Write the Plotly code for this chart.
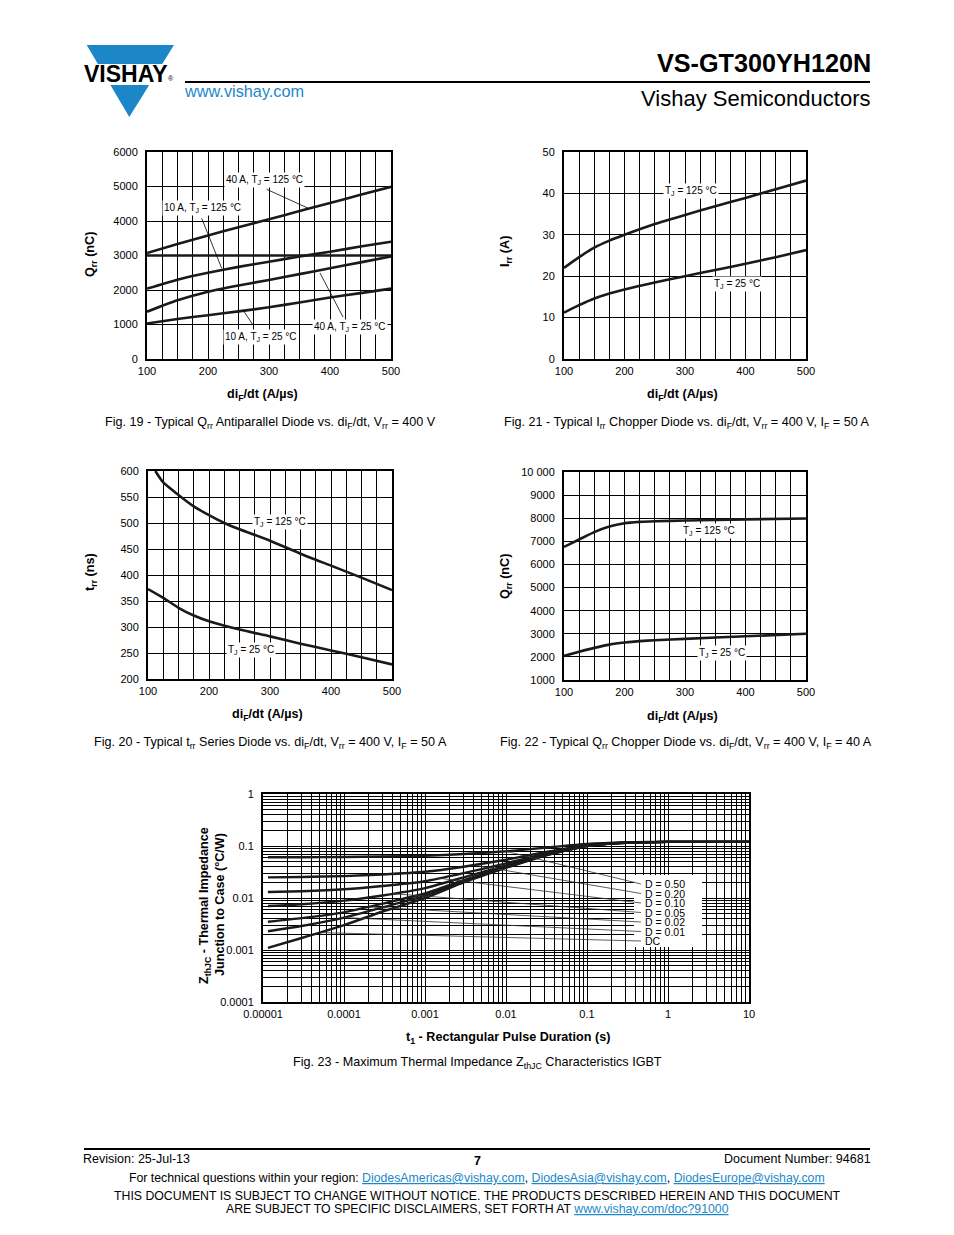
import numpy as np
import plotly.graph_objects as go

# ---------------- data ----------------
# Fig. 19  Qrr (nC) vs diF/dt
x19 = [100, 150, 200, 250, 300, 350, 400, 450, 500]
q19_40a_125 = [3070, 3330, 3580, 3820, 4050, 4290, 4520, 4760, 4990]
q19_10a_125 = [2040, 2300, 2500, 2670, 2820, 2970, 3110, 3260, 3400]
q19_40a_25 = [1370, 1700, 1950, 2130, 2290, 2460, 2630, 2800, 2970]
q19_10a_25 = [1030, 1160, 1270, 1380, 1500, 1640, 1780, 1910, 2040]

# Fig. 21  Irr (A) vs diF/dt
x21 = [100, 125, 150, 175, 200, 250, 300, 350, 400, 450, 500]
i21_125 = [22.0, 24.6, 26.9, 28.6, 30.0, 32.6, 34.8, 36.9, 38.9, 41.0, 43.1]
i21_25 = [11.2, 13.0, 14.6, 15.8, 16.8, 18.5, 20.0, 21.5, 23.0, 24.6, 26.3]

# Fig. 20  trr (ns) vs diF/dt
x20_125 = [112, 125, 150, 175, 200, 225, 250, 300, 350, 400, 450, 500]
t20_125 = [600, 578, 554, 532, 515, 500, 488, 466, 441, 418, 395, 371]
x20_25 = [100, 125, 150, 175, 200, 250, 300, 350, 400, 450, 500]
t20_25 = [373, 356, 337, 322, 311, 295, 282, 268, 255, 242, 228]

# Fig. 22  Qrr (nC) vs diF/dt
x22 = [100, 125, 150, 175, 200, 225, 250, 300, 400, 500]
q22_125 = [6760, 7080, 7400, 7640, 7780, 7840, 7870, 7900, 7950, 7990]
q22_25 = [2040, 2220, 2390, 2530, 2620, 2680, 2720, 2780, 2890, 3000]

# Fig. 23  ZthJC (°C/W) vs t1 (s)
t23 = [1.15e-5, 3e-5, 1e-4, 3e-4, 1e-3, 3e-3, 1e-2, 3e-2, 0.1, 0.3, 1, 3, 10]
z_d050 = [0.0606, 0.0609, 0.0615, 0.0628, 0.0650, 0.0700, 0.0790, 0.0925, 0.1100, 0.1175, 0.120, 0.120, 0.120]
z_d020 = [0.0249, 0.0254, 0.0264, 0.0284, 0.0320, 0.0400, 0.0544, 0.0760, 0.1040, 0.1160, 0.120, 0.120, 0.120]
z_d010 = [0.0130, 0.0135, 0.0147, 0.0170, 0.0210, 0.0300, 0.0462, 0.0705, 0.1020, 0.1155, 0.120, 0.120, 0.120]
z_d005 = [0.0070, 0.0076, 0.0089, 0.0112, 0.0155, 0.0250, 0.0421, 0.0678, 0.1010, 0.1153, 0.120, 0.120, 0.120]
z_d002 = [0.0035, 0.0041, 0.0053, 0.0078, 0.0122, 0.0220, 0.0396, 0.0661, 0.1004, 0.1151, 0.120, 0.120, 0.120]
z_d001 = [0.0023, 0.0029, 0.0042, 0.0066, 0.0111, 0.0210, 0.0388, 0.0656, 0.1002, 0.1150, 0.120, 0.120, 0.120]
z_dc = [0.0011, 0.0017, 0.0030, 0.0055, 0.0100, 0.0200, 0.0380, 0.0650, 0.1000, 0.1150, 0.120, 0.120, 0.120]
d_labels = ["D = 0.50", "D = 0.20", "D = 0.10", "D = 0.05", "D = 0.02", "D = 0.01", "DC"]

lin_xticks = list(range(100, 501, 25))
log_x_major = [1e-5, 1e-4, 1e-3, 1e-2, 1e-1, 1, 10]
log_x_text = ["0.00001", "0.0001", "0.001", "0.01", "0.1", "1", "10"]
log_y_major = [1e-4, 1e-3, 1e-2, 1e-1, 1]
log_y_text = ["0.0001", "0.001", "0.01", "0.1", "1"]

# ---------------- helpers ----------------
W, H = 954, 1235
FONT = "Liberation Sans, Arial, Helvetica, sans-serif"
BLUE = "#1b87c9"
INK = "#1a1a1a"


def px(x):
    return x / W


def py(y):
    return 1 - y / H


common = dict(showline=True, linecolor="black", linewidth=2, mirror=True,
              showgrid=True, gridcolor="black", gridwidth=1, zeroline=False,
              ticks="", tickfont=dict(size=11, color="black", family=FONT),
              fixedrange=True, tickmode="array", automargin=False, tickangle=0)

fig = go.Figure()
layout_axes = {}


def axname(n, a):
    return f"{a}axis" if n == 1 else f"{a}axis{n}"


def ref(n, a):
    return a if n == 1 else f"{a}{n}"


def lin_panel(n, box, yr, ystep, yfmt=None):
    x0, y0, x1, y1 = box
    layout_axes[axname(n, "x")] = dict(
        domain=[px(x0), px(x1)], range=[100, 500], anchor=ref(n, "y"),
        tickvals=lin_xticks,
        ticktext=[str(v) if v % 100 == 0 else " " for v in lin_xticks],
        ticklabelstandoff=1, **common)
    yv = list(range(yr[0], yr[1] + 1, ystep))
    layout_axes[axname(n, "y")] = dict(
        domain=[py(y1), py(y0)], range=list(yr), anchor=ref(n, "x"),
        tickvals=yv, ticktext=[(yfmt(v) if yfmt else str(v)) for v in yv],
        ticklabelstandoff=5, **common)


lin_panel(1, (147, 152, 391, 359), (0, 6000), 1000)
lin_panel(2, (564, 152, 806, 359), (0, 50), 10)
lin_panel(3, (148, 471, 392, 679), (200, 600), 50)
lin_panel(4, (564, 472, 806, 680), (1000, 10000), 1000,
          lambda v: "10 000" if v == 10000 else str(v))

# log panel
LX0, LY0, LX1, LY1 = 263, 794, 749, 1002
xv, xt = [], []
for k, d in enumerate(log_x_major):
    xv.append(d)
    xt.append(log_x_text[k])
    if d < 10:
        for m in range(2, 10):
            xv.append(d * m)
            xt.append(" ")
yv, yt = [], []
for k, d in enumerate(log_y_major):
    yv.append(d)
    yt.append(log_y_text[k])
    if d < 1:
        for m in range(2, 10):
            yv.append(d * m)
            yt.append(" ")
layout_axes["xaxis5"] = dict(domain=[px(LX0), px(LX1)], type="log", range=[-5, 1],
                             anchor="y5", tickvals=xv, ticktext=xt,
                             ticklabelstandoff=1, **common)
layout_axes["yaxis5"] = dict(domain=[py(LY1), py(LY0)], type="log", range=[-4, 0],
                             anchor="x5", tickvals=yv, ticktext=yt,
                             ticklabelstandoff=5, **common)


def curve(n, x, y, width=2.6, smooth=0.6):
    fig.add_trace(go.Scatter(x=x, y=y, mode="lines",
                             line=dict(color=INK, width=width, shape="spline", smoothing=smooth),
                             xaxis=ref(n, "x"), yaxis=ref(n, "y"),
                             hoverinfo="skip", showlegend=False))


curve(1, x19, q19_40a_125)
curve(1, x19, q19_10a_125)
curve(1, x19, q19_40a_25)
curve(1, x19, q19_10a_25)
curve(2, x21, i21_125)
curve(2, x21, i21_25)
curve(3, x20_125, t20_125)
curve(3, x20_25, t20_25)
curve(4, x22, q22_125)
curve(4, x22, q22_25)
z_all = [z_d050, z_d020, z_d010, z_d005, z_d002, z_d001, z_dc]
for z in z_all:
    curve(5, t23, z, width=2.4, smooth=0.5)

shapes = []
annotations = []


def pline(x0, y0, x1, y1, w=0.8, color="black"):
    shapes.append(dict(type="line", xref="paper", yref="paper",
                       x0=px(x0), y0=py(y0), x1=px(x1), y1=py(y1),
                       line=dict(color=color, width=w)))


def text(x, y, s, size=12, bold=False, color="black", xanchor="center",
         angle=0, bg=None):
    if bold:
        s = f"<b>{s}</b>"
    # compensate annotation inner padding
    if xanchor == "left":
        x -= 3
    elif xanchor == "right":
        x += 3
    a = dict(x=px(x), y=py(y), xref="paper", yref="paper", text=s, showarrow=False,
             xanchor=xanchor, yanchor="middle", textangle=angle,
             font=dict(size=size, color=color, family=FONT))
    if bg:
        a.update(bgcolor=bg, borderpad=1)
    annotations.append(a)


# thick line at 3000 in Fig. 19
shapes.append(dict(type="line", xref="x", yref="y", x0=100, x1=500, y0=3000, y1=3000,
                   line=dict(color=INK, width=2.4)))

# Fig. 19 leaders + labels
pline(266.7, 189.3, 308.3, 208.3)
pline(201.7, 218.3, 221.7, 268.3)
pline(320, 273, 343, 317)
pline(243, 310, 253, 325)
LBL = 10
text(264, 180, "40 A, T<sub>J</sub> = 125 °C", LBL, bg="white")
text(202, 208, "10 A, T<sub>J</sub> = 125 °C", LBL, bg="white")
text(350, 327, "40 A, T<sub>J</sub> = 25 °C", LBL, bg="white")
text(261, 337, "10 A, T<sub>J</sub> = 25 °C", LBL, bg="white")
# Fig. 21
text(691, 191, "T<sub>J</sub> = 125 °C", LBL, bg="white")
text(737, 284, "T<sub>J</sub> = 25 °C", LBL, bg="white")
# Fig. 20
text(280, 522, "T<sub>J</sub> = 125 °C", LBL, bg="white")
text(251, 650, "T<sub>J</sub> = 25 °C", LBL, bg="white")
# Fig. 22
text(709, 531, "T<sub>J</sub> = 125 °C", LBL, bg="white")
text(722, 653, "T<sub>J</sub> = 25 °C", LBL, bg="white")

# Fig. 23 label box + leaders
shapes.append(dict(type="rect", xref="paper", yref="paper", x0=px(634), x1=px(702),
                   y0=py(947), y1=py(875), fillcolor="white", line=dict(width=0),
                   layer="above"))
lead_t = [1e-2, 4e-3, 1.5e-3, 4e-4, 2e-4, 1e-4, 5e-5]
rows = [884, 893.5, 903, 912.5, 922, 931.5, 941]


def log_to_px(t, z):
    xx = LX0 + (np.log10(t) + 5) / 6 * (LX1 - LX0)
    yy = LY0 + (0 - np.log10(z)) / 4 * (LY1 - LY0)
    return xx, yy


for z, ts, ry, lab in zip(z_all, lead_t, rows, d_labels):
    zs = 10 ** np.interp(np.log10(ts), np.log10(t23), np.log10(z))
    sx, sy = log_to_px(ts, zs)
    pline(sx, sy, 641, ry, w=0.8, color="#333333")
    text(646, ry, lab, 10.5, xanchor="left")

# axis titles
AT = 12.6
text(91, 255, "Q<sub>rr</sub> (nC)", AT, bold=True, angle=-90)
text(262, 395, "di<sub>F</sub>/dt (A/µs)", AT, bold=True)
text(506, 252, "I<sub>rr</sub> (A)", AT, bold=True, angle=-90)
text(682, 395, "di<sub>F</sub>/dt (A/µs)", AT, bold=True)
text(91, 572, "t<sub>rr</sub> (ns)", AT, bold=True, angle=-90)
text(267, 715, "di<sub>F</sub>/dt (A/µs)", AT, bold=True)
text(506, 577, "Q<sub>rr</sub> (nC)", AT, bold=True, angle=-90)
text(682, 717, "di<sub>F</sub>/dt (A/µs)", AT, bold=True)
text(205, 906, "Z<sub>thJC</sub> - Thermal Impedance", AT, bold=True, angle=-90)
text(220, 905, "Junction to Case (°C/W)", AT, bold=True, angle=-90)
text(508, 1038, "t<sub>1</sub> - Rectangular Pulse Duration (s)", AT, bold=True)

# captions
CP = 12.6
text(270, 423, "Fig. 19 - Typical Q<sub>rr</sub> Antiparallel Diode vs. di<sub>F</sub>/dt, V<sub>rr</sub> = 400 V", CP)
text(686, 423, "Fig. 21 - Typical I<sub>rr</sub> Chopper Diode vs. di<sub>F</sub>/dt, V<sub>rr</sub> = 400 V, I<sub>F</sub> = 50 A", CP)
text(270, 743, "Fig. 20 - Typical t<sub>rr</sub> Series Diode vs. di<sub>F</sub>/dt, V<sub>rr</sub> = 400 V, I<sub>F</sub> = 50 A", CP)
text(686, 743, "Fig. 22 - Typical Q<sub>rr</sub> Chopper Diode vs. di<sub>F</sub>/dt, V<sub>rr</sub> = 400 V, I<sub>F</sub> = 40 A", CP)
text(478, 1063, "Fig. 23 - Maximum Thermal Impedance Z<sub>thJC</sub> Characteristics IGBT", CP)

# ---------------- header ----------------
def ppath(pts):
    s = "M " + " L ".join(f"{px(a):.5f},{py(b):.5f}" for a, b in pts) + " Z"
    return s


shapes.append(dict(type="path", xref="paper", yref="paper",
                   path=ppath([(86.7, 45), (174, 45), (162.2, 64), (97.9, 64)]),
                   fillcolor=BLUE, line=dict(width=0)))
shapes.append(dict(type="path", xref="paper", yref="paper",
                   path=ppath([(110.4, 85), (149.2, 85), (129.3, 117)]),
                   fillcolor=BLUE, line=dict(width=0)))
text(126, 74, "VISHAY", 23, bold=True)
text(171, 79, "®", 7)
pline(185, 82, 870, 82, w=2)
text(185, 91, "www.vishay.com", 16.3, color=BLUE, xanchor="left")
text(870, 63, "VS-GT300YH120N", 25.2, bold=True, xanchor="right")
text(870, 98, "Vishay Semiconductors", 22, xanchor="right")

# ---------------- footer ----------------
FT = 12.3
pline(84, 1149, 870, 1149, w=2)
text(84, 1159, "Revision: 25-Jul-13", 12.5, xanchor="left")
text(477, 1161, "7", 12.5, bold=True)
text(870, 1159, "Document Number: 94681", 12.5, xanchor="right")


def link(s):
    return f'<span style="color:{BLUE}"><u>{s}</u></span>'


text(477, 1178, "For technical questions within your region: " + link("DiodesAmericas@vishay.com")
     + ", " + link("DiodesAsia@vishay.com") + ", " + link("DiodesEurope@vishay.com"), FT)
text(477, 1196, "THIS DOCUMENT IS SUBJECT TO CHANGE WITHOUT NOTICE. THE PRODUCTS DESCRIBED HEREIN AND THIS DOCUMENT", FT)
text(477, 1209, "ARE SUBJECT TO SPECIFIC DISCLAIMERS, SET FORTH AT " + link("www.vishay.com/doc?91000"), FT)

fig.update_layout(width=W, height=H, autosize=False,
                  margin=dict(l=0, r=0, t=0, b=0, pad=0, autoexpand=False),
                  paper_bgcolor="white", plot_bgcolor="white",
                  showlegend=False, font=dict(family=FONT, color="black"),
                  shapes=shapes, annotations=annotations, **layout_axes)

fig.write_html("out.html", post_script="document.body.style.margin='0';",
               config={"displayModeBar": False})
